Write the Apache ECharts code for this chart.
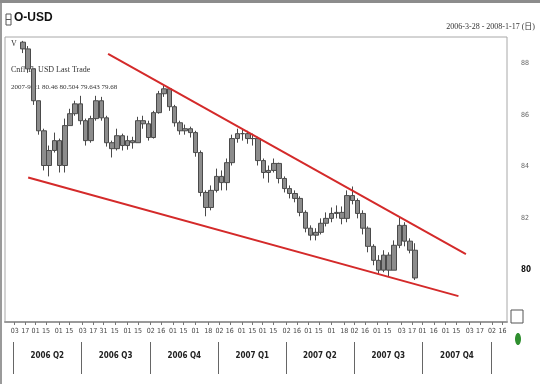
<!DOCTYPE html>
<html><head><meta charset="utf-8">
<script src="https://cdn.jsdelivr.net/npm/echarts@6/dist/echarts.min.js"></script>
<style>html,body{margin:0;padding:0;background:#fff}#c{width:540px;height:384px}</style>
</head><body><div id="c"></div>
<script>
// ---- data (weekly OHLC bars) ----
const firstBarDate = '2006-04-14';
const barStepDays = 7;
const opens = [88.80,88.54,87.77,86.54,85.38,84.04,84.62,85.00,84.04,85.58,
86.04,86.42,85.77,85.00,85.85,86.54,85.88,84.92,84.69,85.19,
84.81,85.00,84.92,85.77,85.65,85.12,86.08,86.81,87.00,86.31,
85.69,85.38,85.46,85.31,84.54,83.00,82.42,83.08,83.62,83.38,
84.15,85.08,85.27,85.27,85.08,85.08,84.23,83.77,83.85,84.12,
83.54,83.15,82.96,82.77,82.23,81.62,81.35,81.46,81.81,82.00,
82.19,82.23,82.00,82.88,82.69,82.19,81.62,80.92,80.38,80.00,
80.58,80.00,80.96,81.73,81.12,80.77];
const closes = [88.54,87.77,86.54,85.38,84.04,84.62,85.00,84.04,85.58,86.04,
86.42,85.77,85.00,85.85,86.54,85.88,84.92,84.69,85.19,84.81,
85.00,84.92,85.77,85.65,85.12,86.08,86.81,87.00,86.31,85.69,
85.38,85.46,85.31,84.54,83.00,82.42,83.08,83.62,83.38,84.15,
85.08,85.27,85.27,85.08,85.08,84.23,83.77,83.85,84.12,83.54,
83.15,82.96,82.77,82.23,81.62,81.35,81.46,81.81,82.00,82.19,
82.23,82.00,82.88,82.69,82.19,81.62,80.92,80.38,80.00,80.58,
80.00,80.96,81.73,81.12,80.77,79.70];
const highs = [88.85,88.65,87.77,86.54,85.46,84.81,85.31,85.08,85.85,86.23,
86.54,86.73,85.85,85.96,86.73,86.69,85.96,85.00,85.46,85.27,
85.19,85.15,85.92,85.96,85.77,86.15,86.92,87.12,87.00,86.38,
85.77,85.62,85.54,85.38,84.62,83.08,83.27,83.92,83.85,84.31,
85.23,85.46,85.46,85.38,85.27,85.15,84.31,84.04,84.31,84.15,
83.62,83.27,83.08,82.85,82.31,81.73,81.62,82.00,82.23,82.42,
82.50,82.46,83.08,83.23,82.77,82.31,81.69,81.00,80.58,80.77,
80.69,81.15,82.04,81.85,81.23,81.04];
const lows = [88.38,87.62,86.38,85.23,83.85,83.62,84.54,83.77,83.77,85.58,
85.96,85.62,84.81,84.92,85.77,85.77,84.77,84.35,84.62,84.62,
84.65,84.69,84.92,85.46,85.00,85.08,86.04,86.69,86.15,85.54,
85.23,85.23,85.12,84.38,82.85,82.08,82.31,83.00,83.08,83.08,
84.04,84.92,85.00,84.88,84.81,84.04,83.54,83.38,83.77,83.35,
83.00,82.77,82.62,82.08,81.46,81.15,81.15,81.38,81.69,81.85,
82.00,81.77,81.85,82.54,82.00,81.38,80.69,80.19,79.85,79.92,
79.77,80.00,80.85,80.92,80.65,79.62];

const upperTrendDates = ['2006-08-06','2007-11-28'];
const upperTrendValues = [88.35, 80.62];
const lowerTrendDates = ['2006-04-21','2007-11-18'];
const lowerTrendValues = [83.58, 79.00];

const dayTickDates = ['2006-04-03','2006-04-17','2006-05-01','2006-05-15','2006-06-01','2006-06-15',
'2006-07-03','2006-07-17','2006-07-31','2006-08-15','2006-09-01','2006-09-15',
'2006-10-02','2006-10-16','2006-11-01','2006-11-15','2006-12-01','2006-12-18',
'2007-01-02','2007-01-16','2007-02-01','2007-02-15','2007-03-01','2007-03-15',
'2007-04-02','2007-04-16','2007-05-01','2007-05-15','2007-06-01','2007-06-18',
'2007-07-02','2007-07-16','2007-08-01','2007-08-15','2007-09-03','2007-09-17',
'2007-10-01','2007-10-16','2007-11-01','2007-11-15','2007-12-03','2007-12-17',
'2008-01-02','2008-01-16'];
const quarterStarts = ['2006-04-01','2006-07-01','2006-10-01','2007-01-01','2007-04-01','2007-07-01','2007-10-01','2008-01-01'];
const quarterLabels = ['2006 Q2','2006 Q3','2006 Q4','2007 Q1','2007 Q2','2007 Q3','2007 Q4'];
const yTickValues = [80, 82, 84, 86, 88];
const axisStart = '2006-03-21', axisEnd = '2008-01-22';
const yMin = 78, yMax = 89;

// ---- build ----
const ts = d => Date.parse(d + 'T00:00:00Z');
const DAY = 86400000;
const ohlc = closes.map((c, i) => [ts(firstBarDate) + i * barStepDays * DAY, opens[i], c, lows[i], highs[i]]);
const qStartTs = quarterStarts.map(ts);
const qMids = quarterLabels.map((_, i) => (qStartTs[i] + qStartTs[i + 1]) / 2);
const qLabelMap = {}; qMids.forEach((m, i) => qLabelMap[m] = quarterLabels[i]);
const narrow = "'Liberation Sans Narrow','DejaVu Sans Condensed','Liberation Serif',serif";

const chart = echarts.init(document.getElementById('c'), null, {renderer: 'canvas'});
chart.setOption({
  animation: false,
  backgroundColor: '#fff',
  grid: {left: 5, right: 33, top: 37, bottom: 62, show: true, borderColor: '#a8a8a8', borderWidth: 1, backgroundColor: '#fff'},
  xAxis: [{
    type: 'value', min: ts(axisStart), max: ts(axisEnd), position: 'bottom',
    axisLine: {show: true, lineStyle: {color: '#9a9a9a', width: 2}},
    splitLine: {show: false},
    axisTick: {show: true, customValues: dayTickDates.map(ts), length: 3, lineStyle: {color: '#777'}},
    axisLabel: {customValues: dayTickDates.map(ts), fontSize: 7, color: '#444', margin: 6, fontFamily: narrow,
      formatter: v => String(new Date(v).getUTCDate()).padStart(2, '0')}
  }, {
    type: 'value', min: ts(axisStart), max: ts(axisEnd), position: 'bottom', offset: 20,
    axisLine: {show: false},
    splitLine: {show: false},
    axisTick: {show: true, customValues: qStartTs, length: 32, lineStyle: {color: '#666', width: 1}},
    axisLabel: {customValues: qMids, fontSize: 8, fontWeight: 'bold', color: '#222', margin: 10, fontFamily: narrow,
      formatter: v => qLabelMap[v] || ''}
  }],
  yAxis: {
    type: 'value', position: 'right', min: yMin, max: yMax,
    axisLine: {show: false}, splitLine: {show: false},
    axisTick: {show: false},
    axisLabel: {customValues: yTickValues, fontSize: 7, color: '#666', margin: 14, fontFamily: narrow,
      formatter: v => v === 80 ? '{b|' + v + '}' : String(v),
      rich: {b: {fontSize: 8, fontWeight: 'bold', color: '#111', fontFamily: narrow}}}
  },
  series: [{
    type: 'candlestick', name: 'O-USD', data: ohlc, barWidth: 5,
    dimensions: ['date', 'open', 'close', 'low', 'high'],
    encode: {x: 0, y: [1, 2, 3, 4]},
    itemStyle: {color: '#8c8c8c', color0: '#8c8c8c', borderColor: '#4a4a4a', borderColor0: '#4a4a4a', borderWidth: 1}
  }, {
    type: 'line', name: 'upper', data: upperTrendDates.map((d, i) => [ts(d), upperTrendValues[i]]),
    symbol: 'none', lineStyle: {color: '#d42a2a', width: 2}, z: 5
  }, {
    type: 'line', name: 'lower', data: lowerTrendDates.map((d, i) => [ts(d), lowerTrendValues[i]]),
    symbol: 'none', lineStyle: {color: '#d42a2a', width: 2}, z: 5
  }],
  graphic: [
    {type: 'rect', shape: {x: 0, y: 0, width: 540, height: 3}, style: {fill: '#8c8c8c'}},
    {type: 'line', shape: {x1: 1, y1: 3, x2: 1, y2: 384}, style: {stroke: '#9a9a9a', lineWidth: 2}},
    {type: 'rect', shape: {x: 6, y: 14, width: 5, height: 11}, style: {fill: 'none', stroke: '#555', lineWidth: 1}},
    {type: 'line', shape: {x1: 6, y1: 19.5, x2: 11, y2: 19.5}, style: {stroke: '#555', lineWidth: 1}},
    {type: 'text', left: 14, top: 12, style: {text: 'O-USD', font: "bold 12px 'Liberation Sans Narrow','Liberation Sans',sans-serif", fill: '#111'}},
    {type: 'text', right: 5, top: 23, style: {text: '2006-3-28 - 2008-1-17 (日)', font: "8px 'Liberation Serif','Noto Sans CJK SC',serif", fill: '#333'}},
    {type: 'text', left: 11, top: 40, style: {text: 'V', font: "8px 'Liberation Serif',serif", fill: '#333'}},
    {type: 'text', left: 11, top: 66, style: {text: 'Cnfl Tb USD Last Trade', font: "8px 'Liberation Serif',serif", fill: '#333'}},
    {type: 'text', left: 11, top: 84, style: {text: '2007-9-21 80.46 80.504 79.643 79.68', font: "7px 'Liberation Serif',serif", fill: '#333'}},
    {type: 'rect', shape: {x: 511, y: 310, width: 12, height: 13}, style: {fill: '#fff', stroke: '#555', lineWidth: 1}},
    {type: 'ellipse', shape: {cx: 518, cy: 339, rx: 3, ry: 6}, style: {fill: '#2f8f2f'}}
  ]
});
</script></body></html>
